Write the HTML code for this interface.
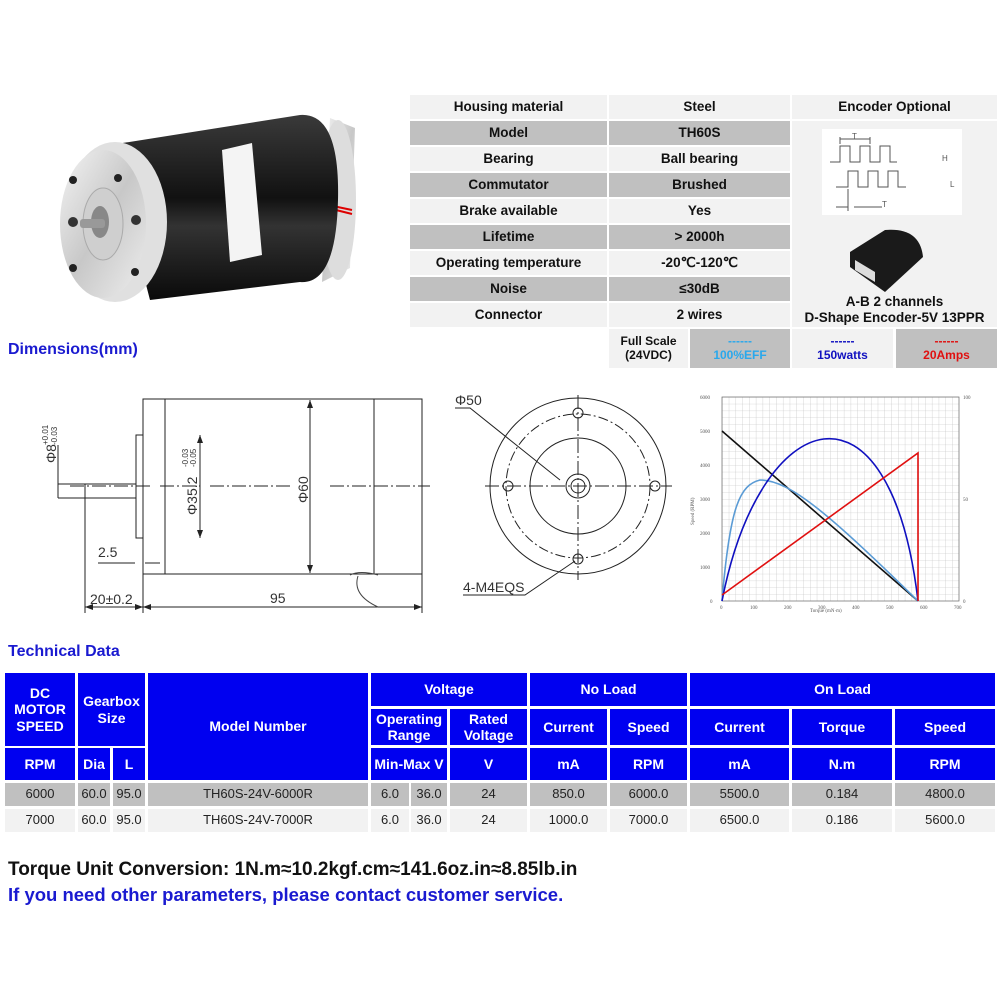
<!DOCTYPE html>
<html><head><meta charset="utf-8"><style>
body{margin:0;width:1000px;height:1000px;background:#fff;position:relative;overflow:hidden;font-family:"Liberation Sans",Arial,sans-serif;}
.c{position:absolute;display:flex;align-items:center;justify-content:center;text-align:center;font-weight:bold;font-size:13.5px;color:#111;line-height:1.15;}
.g{background:#c0c0c0}.l{background:#f2f2f2}
.b{background:#0000f0;color:#fff;font-size:14px;}
.d{font-weight:normal;font-size:13px;color:#222}
.t{position:absolute;font-weight:bold;white-space:nowrap;}
</style></head><body>

<!-- motor photo -->
<svg style="position:absolute;left:0;top:0" width="400" height="330">
<defs>
<linearGradient id="bk" x1="0" y1="0" x2="0" y2="1"><stop offset="0" stop-color="#3a3a3a"/><stop offset=".45" stop-color="#111"/><stop offset=".6" stop-color="#333"/><stop offset="1" stop-color="#0a0a0a"/></linearGradient>
<linearGradient id="sv" x1="0" y1="0" x2="1" y2="1"><stop offset="0" stop-color="#f4f4f4"/><stop offset=".5" stop-color="#c8c8c8"/><stop offset="1" stop-color="#eee"/></linearGradient>
</defs>
<path d="M330,118 L355,128 L350,268 L322,282 Z" fill="url(#sv)"/>
<ellipse cx="338" cy="200" rx="18" ry="80" fill="#ddd"/>
<path d="M328,205 L352,210 M328,208 L352,214" stroke="#d00" stroke-width="2"/>
<path d="M110,145 L300,115 Q340,112 338,200 Q336,285 300,282 L150,300 Z" fill="url(#bk)"/>
<path d="M222,150 L252,143 L262,255 L230,262 Z" fill="#f4f4f4"/>
<ellipse cx="115" cy="222" rx="52" ry="80" fill="#e0e0e0"/>
<ellipse cx="103" cy="224" rx="43" ry="74" fill="url(#sv)"/>
<ellipse cx="103" cy="224" rx="20" ry="36" fill="#cfcfcf" stroke="#aaa"/>
<ellipse cx="100" cy="222" rx="9" ry="16" fill="#888"/>
<rect x="80" y="219" width="25" height="9" rx="3" fill="#999"/>
<circle cx="73" cy="180" r="4" fill="#222"/><circle cx="118" cy="178" r="4" fill="#222"/>
<circle cx="73" cy="268" r="4" fill="#222"/><circle cx="135" cy="272" r="4" fill="#222"/>
<circle cx="73" cy="222" r="5" fill="#333"/><circle cx="136" cy="220" r="5" fill="#333"/>
</svg>

<!-- spec table -->
<div class="c l" style="left:410px;top:95px;width:197px;height:24px">Housing material</div>
<div class="c l" style="left:609px;top:95px;width:181px;height:24px">Steel</div>
<div class="c l" style="left:792px;top:95px;width:205px;height:24px">Encoder Optional</div>
<div class="c g" style="left:410px;top:121px;width:197px;height:24px">Model</div>
<div class="c g" style="left:609px;top:121px;width:181px;height:24px">TH60S</div>
<div class="c l" style="left:410px;top:147px;width:197px;height:24px">Bearing</div>
<div class="c l" style="left:609px;top:147px;width:181px;height:24px">Ball bearing</div>
<div class="c g" style="left:410px;top:173px;width:197px;height:24px">Commutator</div>
<div class="c g" style="left:609px;top:173px;width:181px;height:24px">Brushed</div>
<div class="c l" style="left:410px;top:199px;width:197px;height:24px">Brake available</div>
<div class="c l" style="left:609px;top:199px;width:181px;height:24px">Yes</div>
<div class="c g" style="left:410px;top:225px;width:197px;height:24px">Lifetime</div>
<div class="c g" style="left:609px;top:225px;width:181px;height:24px">&gt; 2000h</div>
<div class="c l" style="left:410px;top:251px;width:197px;height:24px">Operating temperature</div>
<div class="c l" style="left:609px;top:251px;width:181px;height:24px">-20℃-120℃</div>
<div class="c g" style="left:410px;top:277px;width:197px;height:24px">Noise</div>
<div class="c g" style="left:609px;top:277px;width:181px;height:24px">≤30dB</div>
<div class="c l" style="left:410px;top:303px;width:197px;height:24px">Connector</div>
<div class="c l" style="left:609px;top:303px;width:181px;height:24px">2 wires</div>
<div class="c l" style="left:792px;top:121px;width:205px;height:206px"></div>
<svg style="position:absolute;left:822px;top:129px" width="140" height="86">
<rect width="140" height="86" fill="#fff"/>
<g fill="none" stroke="#555" stroke-width="1">
<path d="M8,33 H18 V17 H28 V33 H38 V17 H48 V33 H58 V17 H68 V33 H75"/>
<path d="M14,58 H26 V42 H36 V58 H46 V42 H56 V58 H66 V42 H76 V58 H84"/>
<path d="M18,15 V8 M48,15 V8 M18,10 H48 M26,60 V82 M14,78 H26 M32,78 H60"/>
</g>
<text x="30" y="10" font-size="8" fill="#555">T</text><text x="120" y="32" font-size="8" fill="#555">H</text>
<text x="128" y="58" font-size="8" fill="#555">L</text><text x="60" y="78" font-size="8" fill="#555">T</text>
</svg>
<svg style="position:absolute;left:845px;top:222px" width="85" height="72">
<path d="M5,30 L40,8 Q75,5 78,35 L40,70 L5,45 Z" fill="#1a1a1a"/>
<path d="M10,38 L30,50 L30,60 L10,48 Z" fill="#ddd"/>
</svg>
<div class="c" style="left:792px;top:292px;width:205px;height:36px;font-size:13.5px">A-B 2 channels<br>D-Shape Encoder-5V 13PPR</div>

<div class="c l" style="left:609px;top:329px;width:79px;height:39px;font-size:12px">Full Scale<br>(24VDC)</div>
<div class="c g" style="left:690px;top:329px;width:100px;height:39px;color:#29a8ec;font-size:12px">------<br>100%EFF</div>
<div class="c l" style="left:792px;top:329px;width:101px;height:39px;color:#1010c0;font-size:12px">------<br>150watts</div>
<div class="c g" style="left:896px;top:329px;width:101px;height:39px;color:#e01010;font-size:12px">------<br>20Amps</div>

<div class="t" style="left:8px;top:341px;font-size:16px;color:#1a1ad0">Dimensions(mm)</div>

<!-- side drawing -->
<svg style="position:absolute;left:0;top:385px" width="680" height="240" font-family="Liberation Sans" fill="none" stroke="#222" stroke-width="1">
<rect x="143" y="14" width="279" height="175"/>
<line x1="165" y1="14" x2="165" y2="189"/><line x1="374" y1="14" x2="374" y2="189"/>
<rect x="136" y="50" width="7" height="103"/>
<path d="M58,99 H136 M58,113 H136"/>
<line x1="58" y1="60" x2="58" y2="113"/>
<line x1="85" y1="99" x2="85" y2="228"/>
<line x1="143" y1="189" x2="143" y2="228"/><line x1="422" y1="189" x2="422" y2="228"/>
<path d="M85,222 H143 M143,222 H422"/>
<path d="M70,101 H150 M160,101 H200 M210,101 H290 M330,101 H430" stroke-dasharray="14,3,2,3"/>
<line x1="200" y1="50" x2="200" y2="153"/>
<line x1="310" y1="15" x2="310" y2="188"/>
<path d="M98,178 H118 M118,178 H135 M145,178 H160"/>
<path d="M350,190 Q360,185 378,190 M358,191 Q352,210 378,222" stroke="#444"/>
<g fill="#222" stroke="none">
<path d="M310,15 l-3,8 h6z M310,188 l-3,-8 h6z M200,50 l-3,8 h6z M200,153 l-3,-8 h6z M85,222 l8,-3 v6z M143,222 l-8,-3 v6z M143,222 l8,-3 v6z M422,222 l-8,-3 v6z"/>
</g>
<g fill="#333" stroke="none" font-size="14">
<text x="270" y="218">95</text>
<text x="90" y="219">20±0.2</text>
<text x="98" y="172">2.5</text>
<text transform="translate(308,118) rotate(-90)">Φ60</text>
<text transform="translate(197,130) rotate(-90)">Φ35.2</text>
<text transform="translate(188,82) rotate(-90)" font-size="8">-0.03</text>
<text transform="translate(196,82) rotate(-90)" font-size="8">-0.05</text>
<text transform="translate(56,78) rotate(-90)">Φ8</text>
<text transform="translate(48,60) rotate(-90)" font-size="8">+0.01</text>
<text transform="translate(57,60) rotate(-90)" font-size="8">-0.03</text>
<text x="455" y="20">Φ50</text>
<text x="463" y="207">4-M4EQS</text>
</g>
<circle cx="578" cy="101" r="88"/>
<circle cx="578" cy="101" r="72" stroke-dasharray="10,3,2,3"/>
<circle cx="578" cy="101" r="48"/>
<circle cx="578" cy="101" r="12"/><circle cx="578" cy="101" r="7"/>
<circle cx="508" cy="101" r="5"/><circle cx="655" cy="101" r="5"/>
<circle cx="578" cy="28" r="5"/><circle cx="578" cy="174" r="5"/>
<path d="M485,101 H672 M578,10 V195" stroke-dasharray="14,3,2,3"/>
<path d="M455,23 H470 L560,95"/>
<path d="M463,210 H525 L575,176"/>
</svg>

<!-- chart -->
<svg style="position:absolute;left:680px;top:385px" width="300" height="240" font-family="Liberation Serif">
<defs>
<pattern id="gp" x="42" y="12" width="6.7714" height="6.8" patternUnits="userSpaceOnUse">
<path d="M0,0 V6.8 M0,0 H6.7714" stroke="#bbb" stroke-width=".6" fill="none"/>
</pattern>
</defs>
<rect x="42" y="12" width="237" height="204" fill="url(#gp)" stroke="#666" stroke-width=".7"/>
<g fill="none" stroke-width="1.6">
<path d="M42,46 L238,216" stroke="#111"/>
<path d="M42,216 C50,120 60,100 80,95 C110,95 150,130 238,216" stroke="#5a9bd5"/>
<path d="M42,216 C80,20 210,-20 238,216" stroke="#1010c0"/>
<path d="M42,210 L238,68 V216" stroke="#e01010"/>
</g>
<g font-size="5" fill="#555">
<text x="20" y="14">6000</text><text x="20" y="48">5000</text><text x="20" y="82">4000</text><text x="20" y="116">3000</text><text x="20" y="150">2000</text><text x="20" y="184">1000</text><text x="30" y="218">0</text>
<text x="40" y="224">0</text><text x="70" y="224">100</text><text x="104" y="224">200</text><text x="138" y="224">300</text><text x="172" y="224">400</text><text x="206" y="224">500</text><text x="240" y="224">600</text><text x="274" y="224">700</text>
<text x="130" y="227">Torque (mN·m)</text>
<text x="283" y="14">100</text><text x="283" y="116">50</text><text x="283" y="218">0</text>
<text transform="translate(14,140) rotate(-90)">Speed (RPM)</text>
</g>
</svg>

<div class="t" style="left:8px;top:643px;font-size:16px;color:#1a1ad0">Technical Data</div>

<!-- tech table -->
<div class="c b" style="left:5px;top:673px;width:70px;height:73px">DC<br>MOTOR<br>SPEED</div>
<div class="c b" style="left:5px;top:748px;width:70px;height:32px">RPM</div>
<div class="c b" style="left:78px;top:673px;width:67px;height:73px">Gearbox<br>Size</div>
<div class="c b" style="left:78px;top:748px;width:32px;height:32px">Dia</div>
<div class="c b" style="left:113px;top:748px;width:32px;height:32px">L</div>
<div class="c b" style="left:148px;top:673px;width:220px;height:107px">Model Number</div>
<div class="c b" style="left:371px;top:673px;width:156px;height:33px">Voltage</div>
<div class="c b" style="left:371px;top:709px;width:76px;height:36px">Operating<br>Range</div>
<div class="c b" style="left:450px;top:709px;width:77px;height:36px">Rated<br>Voltage</div>
<div class="c b" style="left:371px;top:748px;width:76px;height:32px">Min-Max V</div>
<div class="c b" style="left:450px;top:748px;width:77px;height:32px">V</div>
<div class="c b" style="left:530px;top:673px;width:157px;height:33px">No Load</div>
<div class="c b" style="left:530px;top:709px;width:77px;height:36px">Current</div>
<div class="c b" style="left:610px;top:709px;width:77px;height:36px">Speed</div>
<div class="c b" style="left:530px;top:748px;width:77px;height:32px">mA</div>
<div class="c b" style="left:610px;top:748px;width:77px;height:32px">RPM</div>
<div class="c b" style="left:690px;top:673px;width:305px;height:33px">On Load</div>
<div class="c b" style="left:690px;top:709px;width:99px;height:36px">Current</div>
<div class="c b" style="left:792px;top:709px;width:100px;height:36px">Torque</div>
<div class="c b" style="left:895px;top:709px;width:100px;height:36px">Speed</div>
<div class="c b" style="left:690px;top:748px;width:99px;height:32px">mA</div>
<div class="c b" style="left:792px;top:748px;width:100px;height:32px">N.m</div>
<div class="c b" style="left:895px;top:748px;width:100px;height:32px">RPM</div>

<div class="c g d" style="left:5px;top:783px;width:70px;height:23px">6000</div>
<div class="c g d" style="left:78px;top:783px;width:32px;height:23px">60.0</div>
<div class="c g d" style="left:113px;top:783px;width:32px;height:23px">95.0</div>
<div class="c g d" style="left:148px;top:783px;width:220px;height:23px">TH60S-24V-6000R</div>
<div class="c g d" style="left:371px;top:783px;width:38px;height:23px">6.0</div>
<div class="c g d" style="left:411px;top:783px;width:36px;height:23px">36.0</div>
<div class="c g d" style="left:450px;top:783px;width:77px;height:23px">24</div>
<div class="c g d" style="left:530px;top:783px;width:77px;height:23px">850.0</div>
<div class="c g d" style="left:610px;top:783px;width:77px;height:23px">6000.0</div>
<div class="c g d" style="left:690px;top:783px;width:99px;height:23px">5500.0</div>
<div class="c g d" style="left:792px;top:783px;width:100px;height:23px">0.184</div>
<div class="c g d" style="left:895px;top:783px;width:100px;height:23px">4800.0</div>

<div class="c l d" style="left:5px;top:809px;width:70px;height:23px">7000</div>
<div class="c l d" style="left:78px;top:809px;width:32px;height:23px">60.0</div>
<div class="c l d" style="left:113px;top:809px;width:32px;height:23px">95.0</div>
<div class="c l d" style="left:148px;top:809px;width:220px;height:23px">TH60S-24V-7000R</div>
<div class="c l d" style="left:371px;top:809px;width:38px;height:23px">6.0</div>
<div class="c l d" style="left:411px;top:809px;width:36px;height:23px">36.0</div>
<div class="c l d" style="left:450px;top:809px;width:77px;height:23px">24</div>
<div class="c l d" style="left:530px;top:809px;width:77px;height:23px">1000.0</div>
<div class="c l d" style="left:610px;top:809px;width:77px;height:23px">7000.0</div>
<div class="c l d" style="left:690px;top:809px;width:99px;height:23px">6500.0</div>
<div class="c l d" style="left:792px;top:809px;width:100px;height:23px">0.186</div>
<div class="c l d" style="left:895px;top:809px;width:100px;height:23px">5600.0</div>

<div class="t" style="left:8px;top:859px;font-size:19px;color:#111">Torque Unit Conversion: 1N.m≈10.2kgf.cm≈141.6oz.in≈8.85lb.in</div>
<div class="t" style="left:8px;top:884px;font-size:18.5px;color:#1a1ad0">If you need other parameters, please contact customer service.</div>
</body></html>
